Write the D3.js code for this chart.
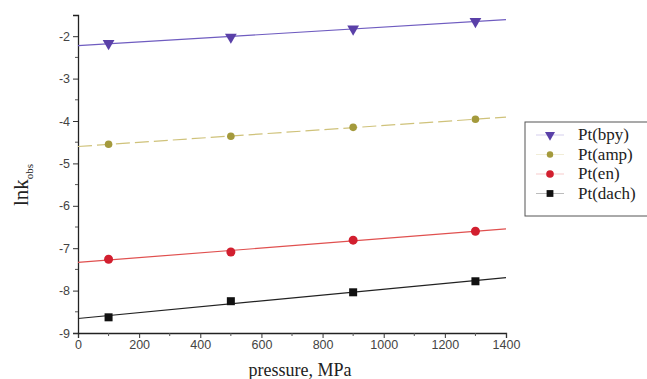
<!DOCTYPE html>
<html><head><meta charset="utf-8">
<script src="https://cdn.jsdelivr.net/npm/d3@7"></script>
<style>body{margin:0;background:#fff}</style>
</head><body>
<svg id="c" width="647" height="379"></svg>
<script>
const pressures = [100, 500, 900, 1300];
const seriesNames = ["Pt(bpy)", "Pt(amp)", "Pt(en)", "Pt(dach)"];
const bpy  = [-2.17, -2.02, -1.83, -1.65];
const amp  = [-4.55, -4.36, -4.15, -3.96];
const en   = [-7.26, -7.09, -6.81, -6.60];
const dach = [-8.63, -8.25, -8.04, -7.78];
const xTicks = [0, 200, 400, 600, 800, 1000, 1200, 1400];
const yTicks = [-2, -3, -4, -5, -6, -7, -8, -9];

const series = [
  {name: seriesNames[0], vals: bpy,  color: "#5a40a8", line: "#6f5cc0", sym: "tri",  dash: null},
  {name: seriesNames[1], vals: amp,  color: "#a49a3c", line: "#cfc27a", sym: "circS", dash: "14,5"},
  {name: seriesNames[2], vals: en,   color: "#d21f2f", line: "#e0504f", sym: "circ", dash: null},
  {name: seriesNames[3], vals: dach, color: "#111111", line: "#222222", sym: "sq",   dash: null}
];

const svg = d3.select("#c");
const x = d3.scaleLinear().domain([0, 1400]).range([78, 506]);
const y = d3.scaleLinear().domain([-9, -1.5]).range([333, 15]);

const xAxis = d3.axisBottom(x).tickValues(xTicks).tickSize(5).tickPadding(2).tickFormat(d3.format("d"));
const gx = svg.append("g").attr("transform", "translate(0,333)").call(xAxis);
const yAxis = d3.axisLeft(y).tickValues(yTicks).tickSize(5).tickPadding(3).tickFormat(d => d);
const gy = svg.append("g").attr("transform", "translate(78,0)").call(yAxis);
[gx, gy].forEach(g => {
  g.select(".domain").attr("stroke", "#222").attr("stroke-width", 1.3);
  g.selectAll(".tick line").attr("stroke", "#333");
  g.selectAll(".tick text").attr("font-family", "Liberation Sans, Arial, sans-serif").attr("font-size", 12.5).attr("fill", "#444");
});
const xMinor = d3.range(100, 1400, 200);
svg.append("g").selectAll("line").data(xMinor).join("line")
  .attr("x1", d => x(d)).attr("x2", d => x(d)).attr("y1", 333).attr("y2", 336).attr("stroke", "#555");
const yMinor = d3.range(-8.5, -1.5, 1);
svg.append("g").selectAll("line").data(yMinor).join("line")
  .attr("x1", 75).attr("x2", 78).attr("y1", d => y(d)).attr("y2", d => y(d)).attr("stroke", "#555");

function fit(vals) {
  const mx = d3.mean(pressures), my = d3.mean(vals);
  let sxy = 0, sxx = 0;
  pressures.forEach((p, i) => { sxy += (p - mx) * (vals[i] - my); sxx += (p - mx) ** 2; });
  const b = sxy / sxx; return p => my + b * (p - mx);
}
series.forEach(s => {
  const f = fit(s.vals);
  svg.append("line").attr("x1", x(0)).attr("x2", x(1400)).attr("y1", y(f(0))).attr("y2", y(f(1400)))
    .attr("stroke", s.line).attr("stroke-width", 1.2).attr("stroke-dasharray", s.dash);
});

function drawSym(g, s, cx, cy, k) {
  k = k || 1;
  if (s.sym === "tri") {
    g.append("path").attr("d", d3.symbol(d3.symbolTriangle, 60 * k * k)()).attr("transform", `translate(${cx},${cy}) rotate(180)`).attr("fill", s.color);
  } else if (s.sym === "sq") {
    g.append("rect").attr("x", cx - 4 * k).attr("y", cy - 4 * k).attr("width", 8 * k).attr("height", 8 * k).attr("fill", s.color);
  } else if (s.sym === "circ") {
    g.append("circle").attr("cx", cx).attr("cy", cy).attr("r", 4.5 * k).attr("fill", s.color);
  } else {
    g.append("circle").attr("cx", cx).attr("cy", cy).attr("r", 3.8 * k).attr("fill", s.color);
  }
}
series.forEach(s => {
  const g = svg.append("g");
  s.vals.forEach((v, i) => drawSym(g, s, x(pressures[i]), y(v)));
});

const yt = svg.append("text").attr("transform", "translate(28,185) rotate(-90)")
  .attr("font-family", "Liberation Serif, Times New Roman, serif").attr("font-size", 21).attr("fill", "#222").attr("text-anchor", "middle");
yt.append("tspan").text("lnk");
yt.append("tspan").text("obs").attr("font-size", 11).attr("dy", 5);
svg.append("text").attr("x", 300).attr("y", 376).attr("text-anchor", "middle")
  .attr("font-family", "Liberation Serif, Times New Roman, serif").attr("font-size", 18).attr("fill", "#222").text("pressure, MPa");

const lg = svg.append("g");
lg.append("rect").attr("x", 525).attr("y", 122).attr("width", 125).attr("height", 94).attr("fill", "#fff").attr("stroke", "#555").attr("stroke-width", 1);
series.forEach((s, i) => {
  const cy = 135 + i * 19.5;
  lg.append("line").attr("x1", 536).attr("x2", 564).attr("y1", cy).attr("y2", cy).attr("stroke", s.line).attr("stroke-width", 1).attr("stroke-opacity", 0.3);
  drawSym(lg, s, 550, cy, 0.85);
  lg.append("text").attr("x", 578).attr("y", cy + 5).attr("font-family", "Liberation Serif, Times New Roman, serif").attr("font-size", 17).attr("fill", "#222").text(s.name);
});
</script>
</body></html>
